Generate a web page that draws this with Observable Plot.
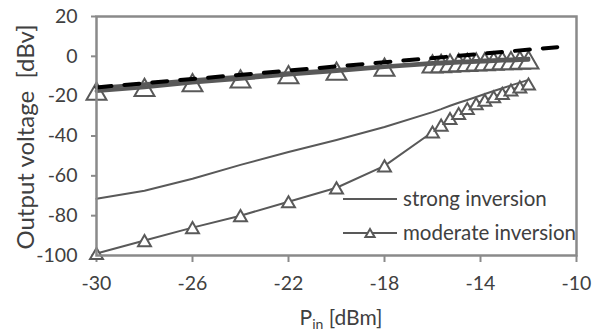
<!DOCTYPE html>
<html><head><meta charset="utf-8">
<script src="https://cdn.jsdelivr.net/npm/d3@7"></script>
<script src="https://cdn.jsdelivr.net/npm/@observablehq/plot@0.6"></script>
<style>
body{margin:0;background:#fff;}
#chart{position:relative;width:593px;height:331px;font-family:Lato,sans-serif;}
</style></head><body><div id="chart"></div>
<script>
// Input power points (dBm)
const clusterX = [-16, -15.64, -15.27, -14.91, -14.55, -14.18, -13.82, -13.45, -13.09, -12.73, -12.36, -12];
const pin = [-30, -28, -26, -24, -22, -20, -18, ...clusterX];
// Output voltage (dBv), lower pair of curves
const strongLow   = [-71.5, -67.5, -61.5, -54.5, -48, -42, -35.5, -28, -26.5, -24.8, -23.3, -21.9, -20.4, -18.9, -17.4, -16, -14.6, -13.2, -11.8];
const moderateLow = [-99, -92.5, -86, -80, -73, -66, -55, -38, -34.5, -31.2, -28.7, -26.2, -23.7, -22, -20.3, -18.6, -16.9, -15.3, -13.9];
// Output voltage (dBv), upper pair of curves
const strongHigh   = [-15.8, -14, -12, -10.2, -8.5, -6.8, -5, -3.3, -3.1, -2.9, -2.7, -2.5, -2.3, -2.1, -1.9, -1.7, -1.5, -1.3, -1.1];
const moderateHigh = [-17.5, -15.6, -13.2, -11.3, -9.2, -7.4, -5.4, -3.8, -3.6, -3.4, -3.2, -3.0, -2.8, -2.6, -2.4, -2.2, -2.1, -1.9, -1.8];
// Dashed reference line
const idealPin = [-30, -10.8];
const idealOut = [-15.6, 4.6];
// Ticks
const xTicks = [-30, -26, -22, -18, -14, -10];
const yTicks = [-100, -80, -60, -40, -20, 0, 20];
const legendLabels = ["strong inversion", "moderate inversion"];

const rows = pin.map((x, i) => ({x, sl: strongLow[i], ml: moderateLow[i], sh: strongHigh[i], mh: moderateHigh[i]}));
const ideal = idealPin.map((x, i) => ({x, y: idealOut[i]}));
const gray = "#595959";
const axisGray = "#8a8a8a";
const tri = {draw(ctx, size) {
  const s = Math.sqrt(size * 4 / Math.sqrt(3));
  const h = s * Math.sqrt(3) / 2;
  ctx.moveTo(0, -h / 2); ctx.lineTo(s / 2, h / 2); ctx.lineTo(-s / 2, h / 2); ctx.closePath();
}};

const plot = Plot.plot({
  width: 593, height: 331,
  marginLeft: 96, marginRight: 17, marginTop: 16, marginBottom: 76,
  style: {fontFamily: "Lato, sans-serif", fontSize: "19.5px", color: "#404040", background: "#fff"},
  x: {domain: [-30, -10]},
  y: {domain: [-100, 20]},
  marks: [
    Plot.axisX({ticks: xTicks, tickFormat: d => String(d), tickSize: 7, tickPadding: 14, stroke: axisGray, strokeWidth: 2, label: null}),
    Plot.axisY({ticks: yTicks, tickFormat: d => String(d), tickSize: 5, tickPadding: 14, stroke: axisGray, strokeWidth: 2, label: null}),
    Plot.line(rows, {x: "x", y: "sl", stroke: gray, strokeWidth: 2}),
    Plot.line(rows, {x: "x", y: "ml", stroke: gray, strokeWidth: 2}),
    Plot.dot(rows, {x: "x", y: "ml", symbol: tri, r: 4.8, stroke: gray, strokeWidth: 2, fill: "white"}),
    Plot.dot(rows, {x: "x", y: "mh", symbol: tri, r: 7.4, stroke: gray, strokeWidth: 2, fill: "white"}),
    Plot.line(rows, {x: "x", y: "sh", stroke: gray, strokeWidth: 3.8}),
    Plot.line(rows, {x: "x", y: "mh", stroke: gray, strokeWidth: 3.8}),
    Plot.line(ideal, {x: "x", y: "y", stroke: "black", strokeWidth: 4, strokeDasharray: "15,13"}),
    Plot.frame({stroke: axisGray, strokeWidth: 2.5})
  ]
});
document.getElementById("chart").appendChild(plot);

const svg = d3.select(plot);
// Y title
svg.append("text")
  .attr("transform", "translate(34,137) rotate(-90)")
  .attr("text-anchor", "middle")
  .style("white-space", "pre")
  .attr("font-size", 24).attr("fill", "#404040")
  .text("Output voltage  [dBv]");
// X title with subscript
const xt = svg.append("text").attr("x", 341).attr("y", 325).attr("text-anchor", "middle")
  .attr("font-size", 21).attr("fill", "#404040");
xt.append("tspan").text("P");
xt.append("tspan").attr("font-size", 14).attr("dy", 4).text("in");
xt.append("tspan").attr("dy", -4).text(" [dBm]");
// Legend
const lg = svg.append("g").attr("font-size", 20.5).attr("fill", "#404040").attr("text-anchor", "start");
[199, 233].forEach((yy, i) => {
  lg.append("line").attr("x1", 343).attr("x2", 397).attr("y1", yy).attr("y2", yy)
    .attr("stroke", gray).attr("stroke-width", 2);
  lg.append("text").attr("x", 403).attr("y", yy).attr("dy", "0.35em").text(legendLabels[i]);
});
lg.append("path").attr("transform", "translate(370,233)").attr("d", "M0,-4L4.6,4L-4.6,4Z")
  .attr("fill", "white").attr("stroke", gray).attr("stroke-width", 2);
</script></body></html>
